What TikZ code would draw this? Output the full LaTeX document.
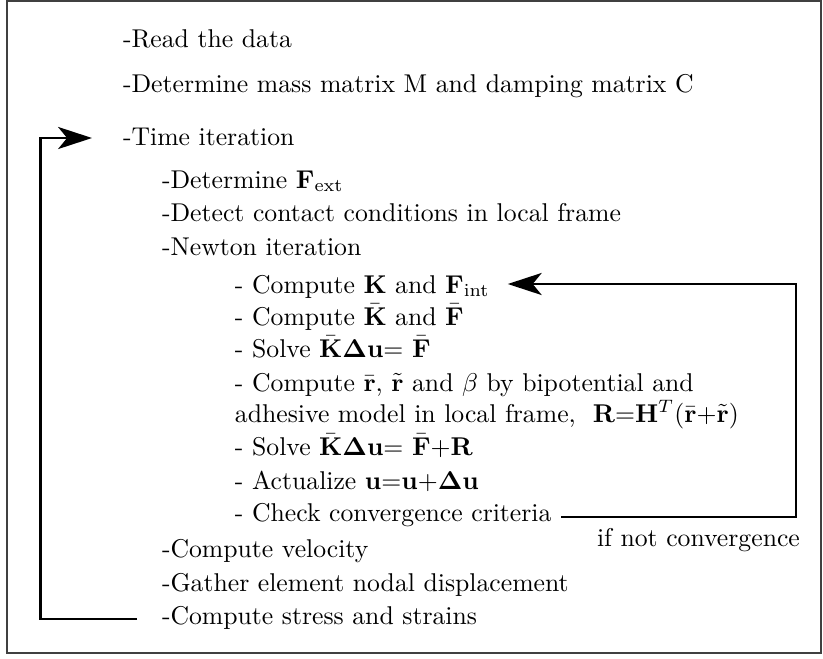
\documentclass[tikz,border=0pt]{standalone}
\usetikzlibrary{arrows.meta}
\tikzset{
  txt/.style={anchor=base west, inner sep=0pt, outer sep=0pt, font=\fontsize{10}{12}\selectfont},
  conn/.style={line width=0.78pt},
  tip/.style={-{Stealth[length=13.2pt,width=8.6pt,inset=3.5pt]}},
  frame/.style={line width=0.6pt, draw=black!75}
}
\begin{document}
\begin{tikzpicture}[x=0.389pt,y=-0.389pt]
\useasboundingbox (0,0) rectangle (823,659);
\draw[frame] (7,1) rectangle (821,653);
\node[txt] (read)   at (123,47)  {-Read the data};
\node[txt] (mass)   at (123,92)  {-Determine mass matrix M and damping matrix C};
\node[txt] (time)   at (123,145) {-Time iteration};
\node[txt] (fext)   at (162,188) {-Determine $\mathbf{F}_{\mathrm{ext}}$};
\node[txt] (detect) at (162,221) {-Detect contact conditions in local frame};
\node[txt] (newton) at (162,255) {-Newton iteration};
\node[txt] (kf)     at (235,293) {- Compute $\mathbf{K}$ and $\mathbf{F}_{\mathrm{int}}$};
\node[txt] (kbar)   at (235,325) {- Compute $\bar{\mathbf{K}}$ and $\bar{\mathbf{F}}$};
\node[txt] (solvea) at (235,357) {- Solve $\bar{\mathbf{K}}\mathbf{\Delta u}$= $\bar{\mathbf{F}}$};
\node[txt] (rbar)   at (235,391) {- Compute $\bar{\mathbf{r}}$, $\tilde{\mathbf{r}}$ and $\beta$ by bipotential and};
\node[txt] (adh)    at (235,422) {adhesive model in local frame,\ \ $\mathbf{R}{=}\mathbf{H}^{T}(\bar{\mathbf{r}}{+}\tilde{\mathbf{r}})$};
\node[txt] (solveb) at (235,455) {- Solve $\bar{\mathbf{K}}\mathbf{\Delta u}$= $\bar{\mathbf{F}}{+}\mathbf{R}$};
\node[txt] (actual) at (235,489) {- Actualize $\mathbf{u}{=}\mathbf{u}{+}\mathbf{\Delta u}$};
\node[txt] (check)  at (235,521) {- Check convergence criteria};
\node[txt] (ifnot)  at (597,546) {if not convergence};
\node[txt] (velo)   at (162,557) {-Compute velocity};
\node[txt] (gather) at (162,591) {-Gather element nodal displacement};
\node[txt] (stress) at (162,624) {-Compute stress and strains};
\coordinate (cR) at (796,284);
\coordinate (cL) at (40.5,380);
\draw[conn,tip] ([shift={(10,-4)}]check.base east) -| (cR) -- ([shift={(18,-9)}]kf.base east);
\draw[conn,tip] ([shift={(-25,-5)}]stress.base west) -| (cL) |- ([shift={(-31,-7)}]time.base west);
\end{tikzpicture}
\end{document}
